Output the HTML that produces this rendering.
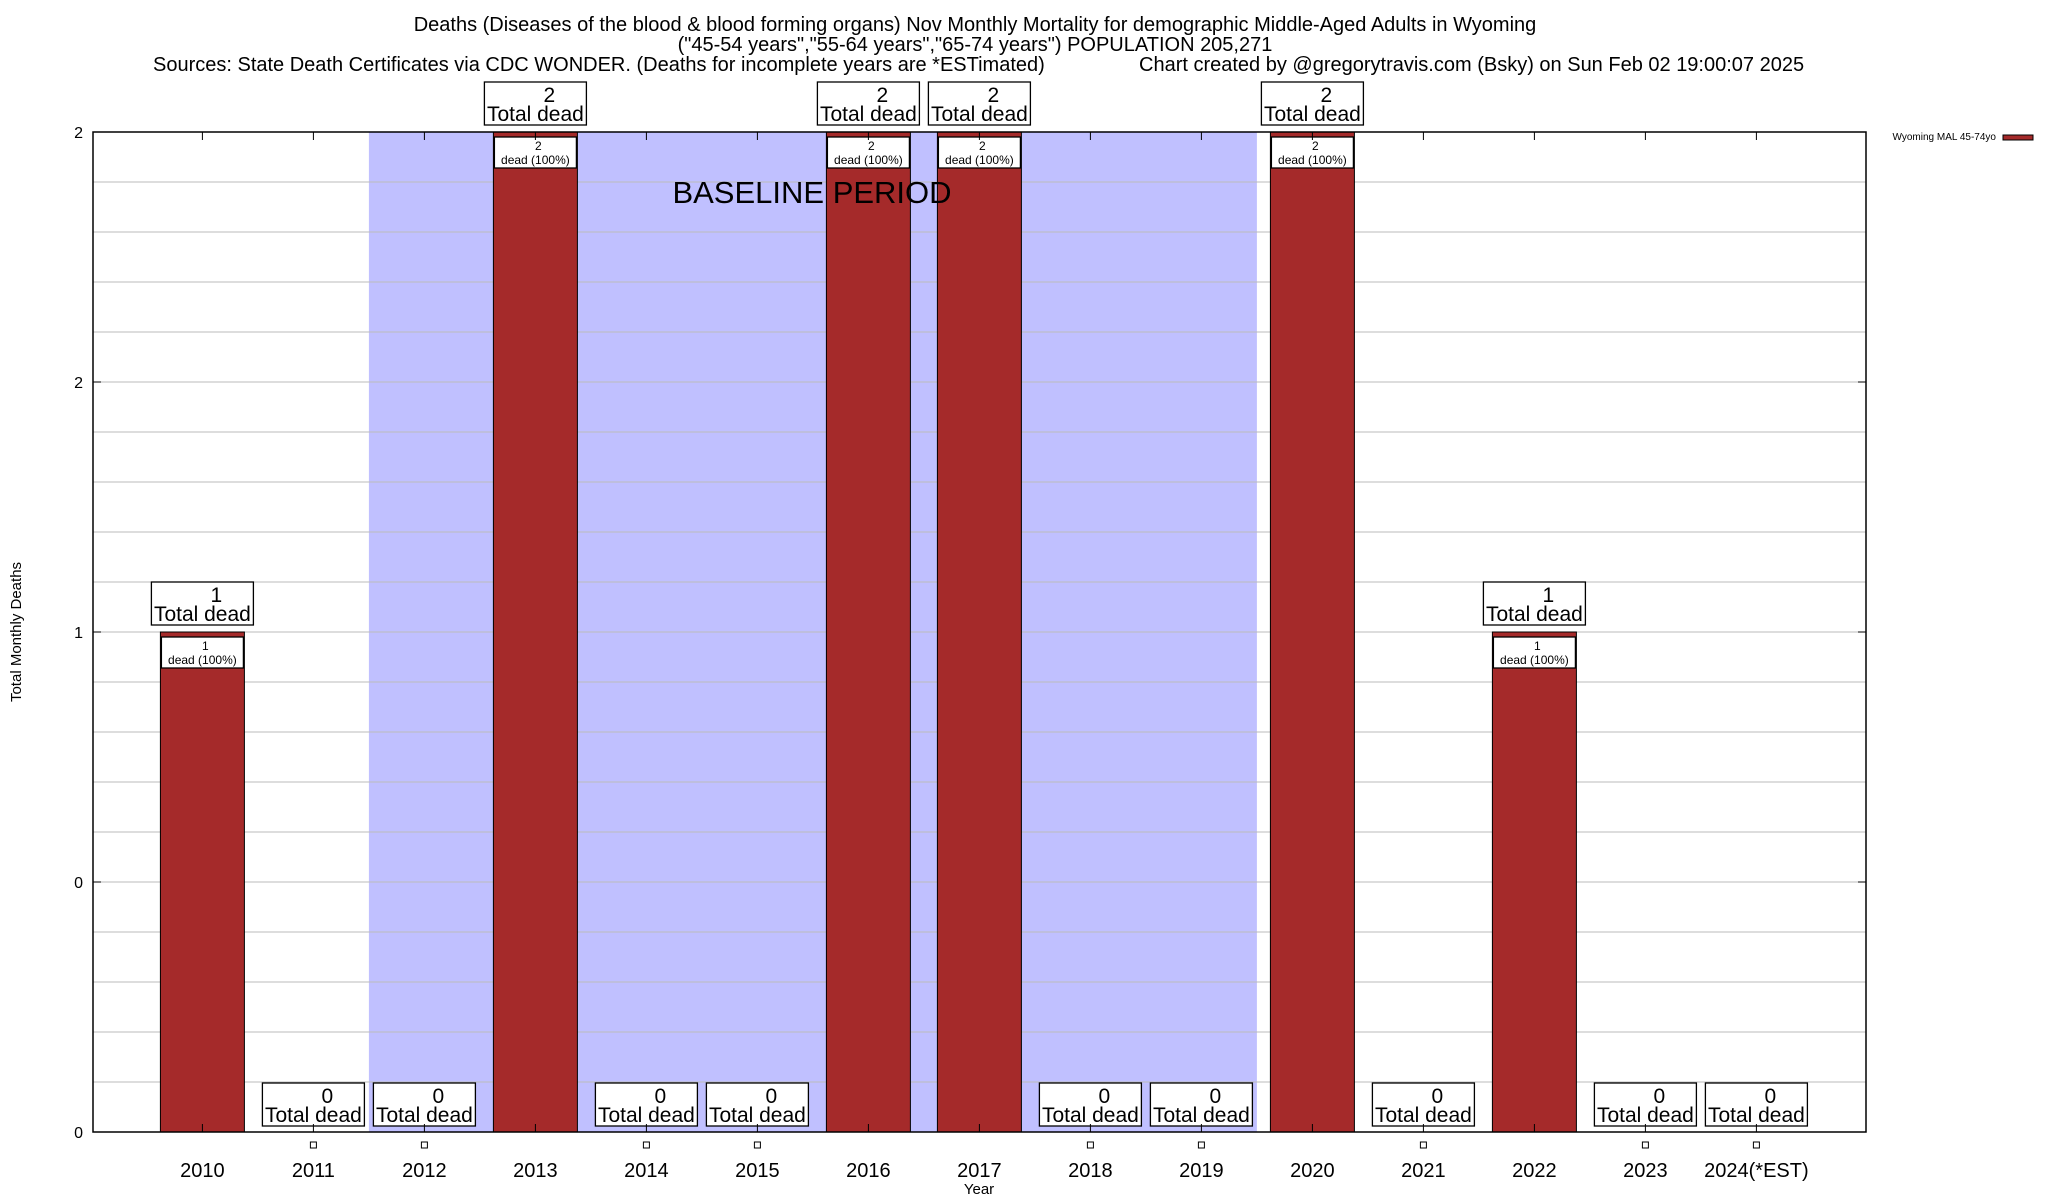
<!DOCTYPE html>
<html><head><meta charset="utf-8"><style>
html,body{margin:0;padding:0;background:#fff;}
svg{display:block;font-family:"Liberation Sans",sans-serif;}
</style></head><body>
<svg id="chart" width="2048" height="1200" viewBox="0 0 2048 1200" xmlns="http://www.w3.org/2000/svg">
<rect width="2048" height="1200" fill="#fff"/>
<g font-size="20" fill="#000">
<text x="975" y="31" text-anchor="middle">Deaths (Diseases of the blood &amp; blood forming organs) Nov Monthly Mortality for demographic Middle-Aged Adults in Wyoming</text>
<text x="975" y="51" text-anchor="middle">("45-54 years","55-64 years","65-74 years") POPULATION 205,271</text>
<text x="153" y="71">Sources: State Death Certificates via CDC WONDER. (Deaths for incomplete years are *ESTimated)</text>
<text x="1139" y="71">Chart created by @gregorytravis.com (Bsky) on Sun Feb 02 19:00:07 2025</text>
</g>
<g id="plot"></g>
<text x="0" y="0" font-size="15" text-anchor="middle" transform="translate(21,632) rotate(-90)">Total Monthly Deaths</text>
<text x="979" y="1194" font-size="15" text-anchor="middle">Year</text>
<g>
<text x="1996" y="140" font-size="10" text-anchor="end">Wyoming MAL 45-74yo</text>
<rect x="2003" y="135" width="30" height="5" fill="#a52a2a" stroke="#000" stroke-width="1"/>
</g>
</svg>
<script>
const categories = ["2010","2011","2012","2013","2014","2015","2016","2017","2018","2019","2020","2021","2022","2023","2024(*EST)"];
const values = [1,0,0,2,0,0,2,2,0,0,2,0,1,0,0];
const yTickValues = [0,0.5,1,1.5,2];
const yTickLabels = ["0","0","1","2","2"];
const baselineStart = 2, baselineEnd = 9; // category indices of baseline period

const L=93,R=1866,T=132,B=1132, yMax=2;
const step=111, x0=202.4, barW=84;
const NS="http://www.w3.org/2000/svg";
const g=document.getElementById('plot');
function xs(i){return x0+i*step;}
function ys(v){return B-(v/yMax)*(B-T);}
function el(tag,attrs,parent){const e=document.createElementNS(NS,tag);for(const k in attrs)e.setAttribute(k,attrs[k]);(parent||g).appendChild(e);return e;}

// baseline shading
const sx0=xs(baselineStart)-step/2, sx1=xs(baselineEnd)+step/2;
const sh=el('rect',{x:sx0,y:T,width:sx1-sx0,height:B-T,fill:'#c0c0ff'});


// grid every 0.1
for(let k=1;k<20;k++){const v=k*0.1;const gl=el('line',{x1:L,x2:R,y1:ys(v),y2:ys(v),stroke:'#bbb','stroke-width':1});

}

// bars
values.forEach((v,i)=>{
  const cx=xs(i);
  if(v>0){
    const b=el('rect',{x:cx-barW/2,y:ys(v),width:barW,height:B-ys(v),fill:'#a52a2a',stroke:'#000','stroke-width':1});
    
    
    const ib=el('rect',{x:cx-barW/2+1,y:ys(v)+5,width:barW-2,height:31,fill:'#fff',stroke:'#000','stroke-width':1.3});
    
    
    const t1=el('text',{x:cx+3,y:ys(v)+18,'font-size':12,'text-anchor':'middle'});t1.textContent=v;
    const t2=el('text',{x:cx,y:ys(v)+32,'font-size':12,'text-anchor':'middle'});t2.textContent='dead (100%)';
  } else {
    const m=el('rect',{x:cx-3,y:1142,width:6,height:6,fill:'#fff',stroke:'#000','stroke-width':1});
    
    
  }
  const top=v>0?ys(v)-50:1083;
  const box=el('rect',{x:cx-51,y:top,width:102,height:43,fill:'#fff',stroke:'#000','stroke-width':1.3});
  
  
  const a=el('text',{x:cx+14,y:top+20,'font-size':21,'text-anchor':'middle'});a.textContent=v;
  const b2=el('text',{x:cx,y:top+39,'font-size':21,'text-anchor':'middle'});b2.textContent='Total dead';
  const xl=el('text',{x:cx,y:1177,'font-size':20,'text-anchor':'middle'});xl.textContent=categories[i];
  
  
  el('line',{x1:cx,x2:cx,y1:B,y2:B-8,stroke:'#000','stroke-width':1});
  el('line',{x1:cx,x2:cx,y1:T,y2:T+8,stroke:'#000','stroke-width':1});
});
const bt=el('text',{x:812,y:203,'font-size':31,'text-anchor':'middle'});bt.textContent='BASELINE PERIOD';


// y ticks
yTickValues.forEach((v,k)=>{
  const y=ys(v);
  const t=el('text',{x:L-10,y:y+6,'font-size':16,'text-anchor':'end'});t.textContent=yTickLabels[k];
  
  
  el('line',{x1:L,x2:L+8,y1:y,y2:y,stroke:'#000'});
  el('line',{x1:R,x2:R-8,y1:y,y2:y,stroke:'#000'});
});
const fr=el('rect',{x:L,y:T,width:R-L,height:B-T,fill:'none',stroke:'#000','stroke-width':1.5});


</script>
</body></html>
